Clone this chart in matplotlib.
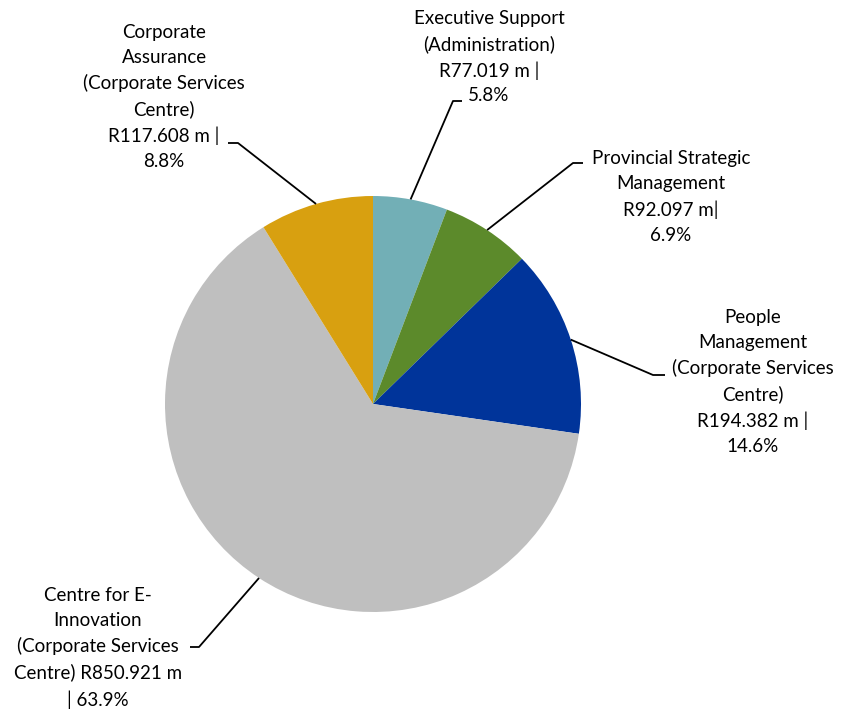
import numpy as np
import matplotlib.pyplot as plt

# spend by programme, R million
programmes = ['Executive Support\n(Administration)',
              'Provincial Strategic\nManagement',
              'People\nManagement\n(Corporate Services\nCentre)',
              'Centre for E-\nInnovation\n(Corporate Services',
              'Corporate\nAssurance\n(Corporate Services\nCentre)']
amounts = [77.019, 92.097, 194.382, 850.921, 117.608]
label_tails = ['\nR77.019 m |\n5.8%',
               '\nR92.097 m|\n6.9%',
               '\nR194.382 m |\n14.6%',
               '\nCentre) R850.921 m\n| 63.9%',
               '\nR117.608 m |\n8.8%']
colors = ['#72AFB6', '#5C8A2B', '#00349A', '#BFBFBF', '#D8A010']

W, H = 844, 711
cx, cy, R = 373, H - 404, 208

fig = plt.figure(figsize=(W / 100, H / 100), dpi=100)
ax = fig.add_axes([0, 0, 1, 1])

wedges, _ = ax.pie(amounts, colors=colors, startangle=90, counterclock=False,
                   center=(cx, cy), radius=R, frame=True)
ax.set_xlim(0, W)
ax.set_ylim(0, H)
ax.set_aspect('equal')
ax.axis('off')

# label layout: text centre, elbow point, line end (pixels, y down)
text_pos = [(489, 57), (671, 197), (753, 382), (98, 648), (164, 97)]
elbows = [(453, 101), (573, 163), (653, 375), (199, 647), (238, 143)]
ends = [(462, 101), (583, 163), (665, 375), (190, 647), (228, 143)]

for w, name, tail, tp, el, en in zip(wedges, programmes, label_tails,
                                     text_pos, elbows, ends):
    ang = np.deg2rad((w.theta1 + w.theta2) / 2)
    x0 = cx + R * np.cos(ang)
    y0 = cy + R * np.sin(ang)
    ax.plot([x0, el[0], en[0]], [y0, H - el[1], H - en[1]],
            color='black', lw=1.3, solid_capstyle='butt')
    ax.text(tp[0], H - tp[1], name + tail, ha='center', va='center',
            multialignment='center', fontsize=13.5, family='Lato',
            linespacing=1.55, color='black')

fig.savefig('out.png', dpi=100)
